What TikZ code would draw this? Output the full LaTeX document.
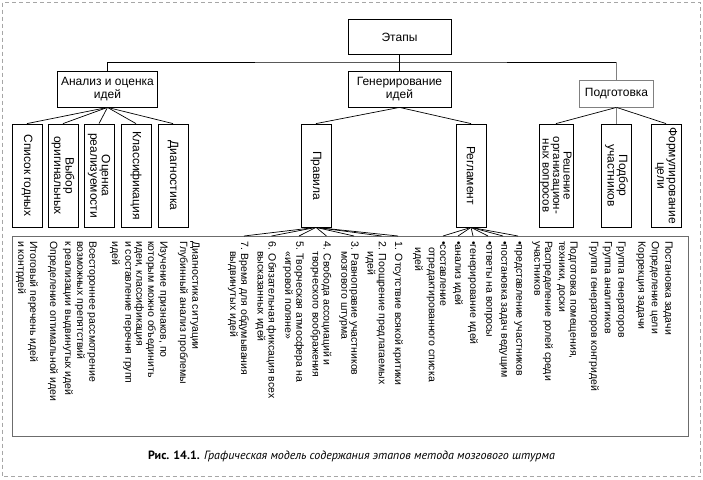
\documentclass[tikz,border=0pt]{standalone}
\usepackage{fontspec}
\setmainfont{Liberation Sans}
\newfontfamily\capfont{PT Sans}
\begin{document}
\begin{tikzpicture}[x=1pt,y=-1pt,
  box/.style={draw=black, line width=0.8pt, align=center, inner sep=1pt, font=\fontsize{12}{13.5}\selectfont},
  vbox/.style={draw=black, line width=0.8pt, rotate=-90, align=center, inner sep=1pt, minimum width=103pt, minimum height=30pt, font=\fontsize{12}{11.5}\selectfont},
  ln/.style={rotate=-90, anchor=west, inner sep=0pt, font=\fontsize{10.5}{12}\selectfont},
  conn/.style={line width=0.7pt},
  frame/.style={draw=gray!70, dash pattern=on 4pt off 3pt, line width=0.9pt},
  panel/.style={draw=gray!85!black, line width=1pt, inner sep=0pt}
]
\useasboundingbox (0,0) rectangle (703,479);
\draw[frame] (2.5,2.5) rectangle (700.5,476.5);

% level 0 and 1
\node[box, minimum width=103pt, minimum height=35pt] (etapy) at (399.5,37) {Этапы};
\node[box, minimum width=100pt, minimum height=36pt] (analiz) at (107.5,89) {Анализ и оценка\\идей};
\node[box, minimum width=103pt, minimum height=36pt] (gener) at (399.5,89) {Генерирование\\идей};
\node[box, draw=gray, minimum width=74pt, minimum height=27pt] (podg) at (616.5,93.5) {Подготовка};

% level 2
\node[vbox] (spisok) at (27,175.5) {Список годных};
\node[vbox] (vybor) at (63,175.5) {Выбор\\оригинальных};
\node[vbox] (ocenka) at (99,175.5) {Оценка\\реализуемости};
\node[vbox] (klass) at (136,175.5) {Классификация};
\node[vbox] (diag) at (173,175.5) {Диагностика};
\node[vbox] (pravila) at (316,175.5) {Правила};
\node[vbox] (regl) at (471,175.5) {Регламент};
\node[vbox, minimum height=34pt, font=\fontsize{11.5}{10.5}\selectfont] (resh) at (556,175.5) {Решение\\организацион-\\ных вопросов};
\node[vbox] (podbor) at (616.5,175.5) {Подбор\\участников};
\node[vbox] (formul) at (666,175.5) {Формулирование\\цели};

% panel
\node[panel, minimum width=676pt, minimum height=200pt, anchor=north west] (bigbox) at (12,236) {};

% connectors
\coordinate (bus) at (399.5,62);
\draw[conn] (etapy.south) -- (bus);
\draw[conn] (analiz.north) |- (bus) -- (bus -| podg.north);
\draw[conn] (bus) -- (gener.north);
\draw[conn, gray] (bus -| podg.north) -- (podg.north);
\foreach \n in {spisok,vybor,ocenka,klass,diag} \draw[conn] (analiz.south) -- (\n.west);
\draw[conn] (gener.south) -- (pravila.west);
\draw[conn] (gener.south) -- (regl.west);
\draw[conn] (podg.south) -- (resh.west);
\draw[conn, gray] (podg.south) -- (podbor.west);
\draw[conn] (podg.south) -- (formul.west);

% text in panel: preparation
\foreach \x/\y/\t [count=\i] in {
  668/241/{Постановка задачи}, 654.5/241/{Определение цели}, 641/241/{Коррекция задачи},
  621/241/{Группа генераторов}, 607.5/241/{Группа аналитиков}, 594/241/{Группа генераторов контридей},
  573/241/{Подготовка помещения,}, 561/241/{техники, доски}, 548/241/{Распределение ролей среди}, 536/241/{участников}}
  \node[ln] (p\i) at (\x,\y) {\t};

% reglament
\foreach \x/\y/\t [count=\i] in {
  518/241/{•представление участников}, 503/241/{•постановка задач ведущим}, 488/241/{•ответы на вопросы},
  473/241/{•генерирование идей}, 458/241/{•анализ идей}, 443/241/{•составление},
  430.5/247/{отредактированного списка}, 418/247/{идей}}
  \node[ln] (g\i) at (\x,\y) {\t};

% rules
\foreach \x/\y/\t [count=\i] in {
  398/241/{1. Отсутствие всякой критики}, 381.5/241/{2. Поощрение предлагаемых}, 370.5/251/{идей},
  354/241/{3. Равноправие участников}, 343/251/{мозгового штурма},
  326.5/241/{4. Свобода ассоциаций и}, 315.5/251/{творческого воображения},
  299/241/{5. Творческая атмосфера на}, 288/251/{«игровой поляне»},
  271.5/241/{6. Обязательная фиксация всех}, 260.5/251/{высказанных идей},
  244/241/{7. Время для обдумывания}, 233/251/{выдвинутых идей}}
  \node[ln] (r\i) at (\x,\y) {\t};

% analysis
\foreach \x/\y/\t [count=\i] in {
  195/241/{Диагностика ситуации}, 183/241/{Глубинный анализ проблемы},
  163/241/{Изучение признаков, по}, 151/241/{которым можно объединить}, 139/241/{идеи, классификация},
  127/241/{и составление перечня групп}, 115/241/{идей},
  92/241/{Всестороннее рассмотрение}, 80/241/{возможных препятствий}, 68/241/{к реализации выдвинутых идей},
  53/241/{Определение оптимальной идеи},
  33/241/{Итоговый перечень идей}, 21/241/{и контрдей}}
  \node[ln] (a\i) at (\x,\y) {\t};

% fans to panel
\foreach \k in {1,2,4,6,8,10,12} \draw[conn] (pravila.east) -- (bigbox.north -| r\k);
\foreach \k in {1,...,6} \draw[conn] (regl.east) -- (bigbox.north -| g\k);

% caption
\node[font=\capfont\fontsize{12}{14}\selectfont] (cap) at (351.5,456) {\textbf{Рис. 14.1.} \textit{Графическая модель содержания этапов метода мозгового штурма}};
\end{tikzpicture}
\end{document}
